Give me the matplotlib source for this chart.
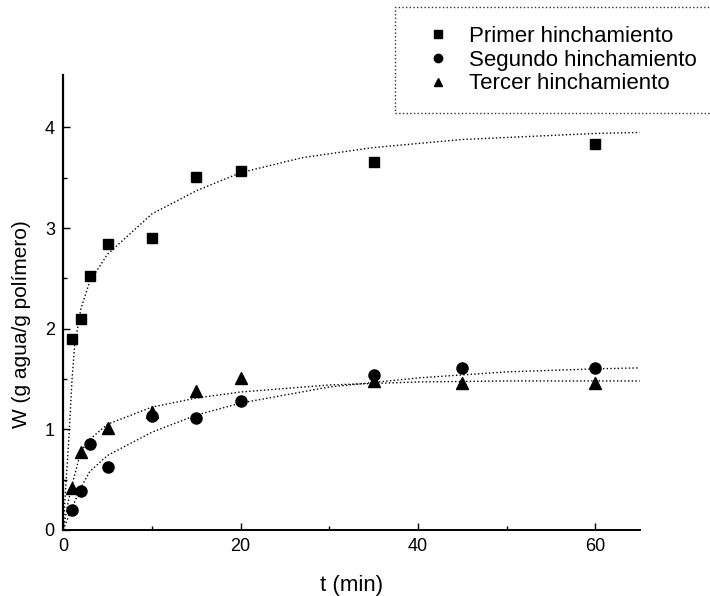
import numpy as np
import matplotlib
matplotlib.use("Agg")
import matplotlib.pyplot as plt

plt.rcParams['font.family'] = ['Liberation Sans', 'DejaVu Sans']

# puntos experimentales
t_primer = [1, 2, 3, 5, 10, 15, 20, 35, 60]
w_primer = [1.90, 2.10, 2.52, 2.84, 2.90, 3.51, 3.57, 3.66, 3.84]

t_segundo = [1, 2, 3, 5, 10, 15, 20, 35, 45, 60]
w_segundo = [0.20, 0.39, 0.85, 0.62, 1.13, 1.11, 1.28, 1.54, 1.61, 1.61]

t_tercer = [1, 2, 5, 10, 15, 20, 35, 45, 60]
w_tercer = [0.42, 0.77, 1.01, 1.17, 1.38, 1.51, 1.48, 1.46, 1.46]

# curvas de ajuste
tc_primer = [0, 0.3, 0.6, 1, 1.3, 2, 3, 5, 10, 15, 20, 27, 35, 45, 60, 65]
wc_primer = [0, 0.45, 0.85, 1.5, 1.84, 2.2, 2.47, 2.74, 3.14, 3.37, 3.55, 3.70, 3.80, 3.88, 3.94, 3.95]

tc_segundo = [0, 1, 2, 3, 5, 10, 15, 20, 30, 40, 50, 60, 65]
wc_segundo = [0, 0.22, 0.42, 0.58, 0.74, 0.97, 1.14, 1.26, 1.42, 1.51, 1.57, 1.60, 1.61]

tc_tercer = [0, 0.5, 1, 2, 3, 5, 10, 15, 20, 30, 40, 50, 60, 65]
wc_tercer = [0, 0.25, 0.45, 0.78, 0.90, 1.05, 1.22, 1.31, 1.37, 1.44, 1.47, 1.48, 1.48, 1.48]

fig = plt.figure(figsize=(7.1, 5.96), dpi=100)
ax = fig.add_axes([0.089, 0.111, 0.812, 0.763])

ax.plot(tc_primer, wc_primer, color='black', ls=':', lw=1.0)
ax.plot(tc_segundo, wc_segundo, color='black', ls=':', lw=1.0)
ax.plot(tc_tercer, wc_tercer, color='black', ls=':', lw=1.0)

ax.plot(t_primer, w_primer, 's', color='black', ms=7, label='Primer hinchamiento')
ax.plot(t_segundo, w_segundo, 'o', color='black', ms=8, label='Segundo hinchamiento')
ax.plot(t_tercer, w_tercer, '^', color='black', ms=8, label='Tercer hinchamiento')

ax.set_xlim(0, 65)
ax.set_ylim(0, 4.52)
ax.set_xticks([0, 20, 40, 60])
ax.set_xticks([10, 30, 50], minor=True)
ax.set_yticks([0, 1, 2, 3, 4])
ax.set_yticks([0.5, 1.5, 2.5, 3.5], minor=True)
ax.tick_params(direction='in', length=5, width=1, labelsize=13, pad=6)
ax.tick_params(which='minor', direction='in', length=3, width=1)
for s in ['top', 'right']:
    ax.spines[s].set_visible(False)
ax.spines['left'].set_linewidth(1.6)
ax.spines['bottom'].set_linewidth(1.4)

ax.set_xlabel('t (min)', fontsize=16, labelpad=14)
ax.set_ylabel('W (g agua/g polímero)', fontsize=15)
ax.yaxis.set_label_coords(-0.056, 0.453)

leg = ax.legend(loc='upper left', bbox_to_anchor=(0.556, 0.988), bbox_transform=fig.transFigure,
                fontsize=16, frameon=True, fancybox=False, handletextpad=0.3, labelspacing=0.12,
                borderpad=0.85, handlelength=2.2, markerscale=0.75, borderaxespad=0)
fr = leg.get_frame()
fr.set_edgecolor('black')
fr.set_linestyle(':')
fr.set_linewidth(1.0)

fig.savefig('out.png', dpi=100)
